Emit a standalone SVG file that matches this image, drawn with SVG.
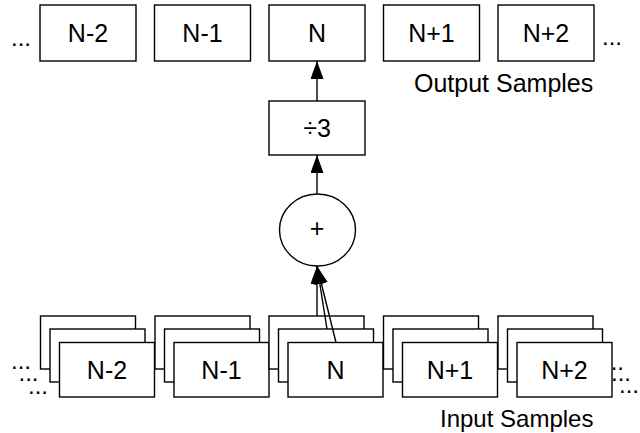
<svg xmlns="http://www.w3.org/2000/svg" width="640" height="433" viewBox="0 0 640 433">
<style>
  .box { fill: #fff; stroke: #000; stroke-width: 1.4; }
  .lbl { font-family: "Liberation Sans", Arial, sans-serif; font-size: 25px; fill: #000; text-anchor: middle; }
  .txt { font-family: "Liberation Sans", Arial, sans-serif; font-size: 24px; fill: #000; }
  .conn { stroke: #000; stroke-width: 1.4; fill: none; }
</style>
<defs>
  <marker id="arr" viewBox="0 0 18 13" refX="18" refY="6.5" markerWidth="18" markerHeight="13" markerUnits="userSpaceOnUse" orient="auto">
    <path d="M0,0 L18,6.5 L0,13 Z" fill="#000"/>
  </marker>
</defs>
<rect width="640" height="433" fill="#fff"/>

<g id="dots">
  <text class="txt" x="11" y="45.5">...</text>
  <text class="txt" x="602" y="45">...</text>
  <text class="txt" x="11" y="369">...</text>
  <text class="txt" x="18.5" y="380.5">...</text>
  <text class="txt" x="28" y="393.5">...</text>
  <text class="txt" x="604" y="370">...</text>
  <text class="txt" x="611" y="381">...</text>
  <text class="txt" x="619" y="393">...</text>
</g>

<g id="out-n-2"><rect class="box" x="40" y="5" width="96" height="56"/><text class="lbl" x="88" y="42">N-2</text></g>
<g id="out-n-1"><rect class="box" x="154.5" y="5" width="96" height="56"/><text class="lbl" x="202.5" y="42">N-1</text></g>
<g id="out-n"><rect class="box" x="269" y="5" width="96" height="56"/><text class="lbl" x="317" y="42">N</text></g>
<g id="out-n+1"><rect class="box" x="383.5" y="5" width="96" height="56"/><text class="lbl" x="431.5" y="42">N+1</text></g>
<g id="out-n+2"><rect class="box" x="498" y="5" width="96" height="56"/><text class="lbl" x="546" y="42">N+2</text></g>
<text id="output-label" class="txt" x="414" y="91.5" style="font-size:25px">Output Samples</text>

<g id="divide"><rect class="box" x="269" y="101" width="96" height="54"/><text class="lbl" x="317" y="136.5">÷3</text></g>
<g id="sum"><ellipse class="box" cx="317.5" cy="230" rx="38" ry="36"/><text class="lbl" x="317" y="237">+</text></g>

<g id="in-n-2">
  <rect class="box" x="40.5" y="316" width="95" height="53"/>
  <rect class="box" x="50" y="329" width="95" height="53"/>
  <rect class="box" x="59.5" y="342.5" width="95" height="54.5"/>
  <text class="lbl" x="107" y="378.5">N-2</text>
</g>
<g id="in-n-1">
  <rect class="box" x="155" y="316" width="95" height="53"/>
  <rect class="box" x="164.5" y="329" width="95" height="53"/>
  <rect class="box" x="174" y="342.5" width="95" height="54.5"/>
  <text class="lbl" x="221.5" y="378.5">N-1</text>
</g>
<g id="in-n">
  <rect class="box" x="269" y="316" width="95" height="53"/>
  <rect class="box" x="278.5" y="329" width="95" height="53"/>
  <rect class="box" x="288" y="342.5" width="95" height="54.5"/>
  <text class="lbl" x="335.5" y="378.5">N</text>
</g>
<g id="in-n+1">
  <rect class="box" x="383.5" y="316" width="95" height="53"/>
  <rect class="box" x="393" y="329" width="95" height="53"/>
  <rect class="box" x="402.5" y="342.5" width="95" height="54.5"/>
  <text class="lbl" x="450" y="378.5">N+1</text>
</g>
<g id="in-n+2">
  <rect class="box" x="498" y="316" width="95" height="53"/>
  <rect class="box" x="507.5" y="329" width="95" height="53"/>
  <rect class="box" x="517" y="342.5" width="95" height="54.5"/>
  <text class="lbl" x="564.5" y="378.5">N+2</text>
</g>
<text id="input-label" class="txt" x="440" y="426.5">Input Samples</text>

<g id="connectors">
  <line class="conn" x1="317" y1="101" x2="317" y2="61" marker-end="url(#arr)"/>
  <line class="conn" x1="317" y1="194" x2="317" y2="155" marker-end="url(#arr)"/>
  <line class="conn" x1="317" y1="316" x2="317" y2="266" marker-end="url(#arr)"/>
  <line class="conn" x1="327" y1="329" x2="317" y2="266" marker-end="url(#arr)"/>
  <line class="conn" x1="336" y1="342.5" x2="317" y2="266" marker-end="url(#arr)"/>
</g>
</svg>
